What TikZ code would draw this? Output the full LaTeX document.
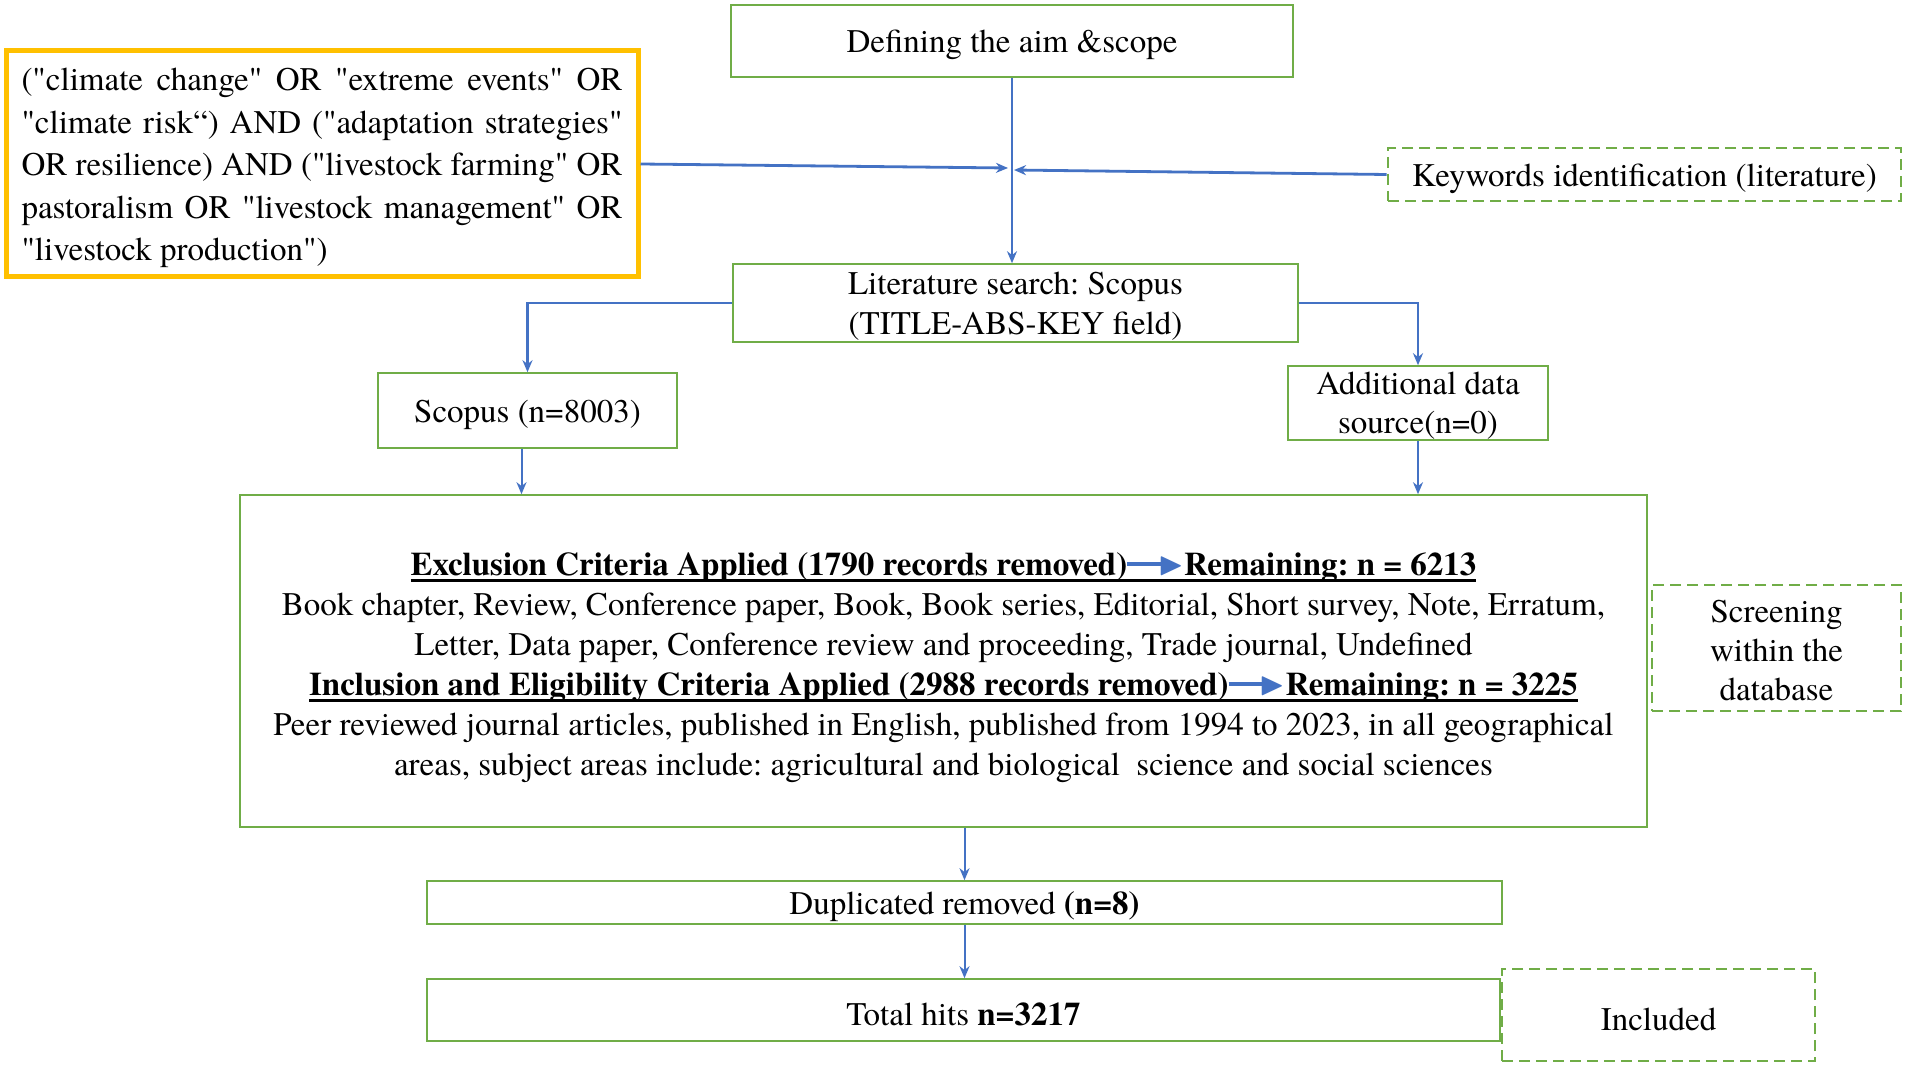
\documentclass[tikz,border=0pt]{standalone}
\usepackage{amssymb}
\usepackage{fontspec}
\setmainfont{texgyretermes}[Extension=.otf, UprightFont=*-regular, BoldFont=*-bold, ItalicFont=*-italic, BoldItalicFont=*-bolditalic, Ligatures=TeXOff]
\usetikzlibrary{arrows.meta}
\definecolor{boxgreen}{HTML}{70AD47}
\definecolor{lineblue}{HTML}{4472C4}
\definecolor{qyellow}{HTML}{FFC000}
\newcommand\ulbox[1]{\setbox0\hbox{#1}\rlap{\rule[-6pt]{\wd0}{2.6pt}}\box0}
\newcommand\blarrow{\textcolor{lineblue}{\rule[0.3em]{1.05em}{0.12em}\kern-0.1em\raisebox{0.05em}{$\blacktriangleright$}}}
\newcommand\topgap[1]{\rule{0pt}{#1}}
\frenchspacing
\begin{document}
\begin{tikzpicture}[x=1pt,y=-1pt,
  txt/.style={font=\fontsize{33}{40}\selectfont\frenchspacing, align=center},
  gbox/.style={txt, draw=boxgreen, line width=1.6pt, inner sep=0pt},
  dbox/.style={gbox, line width=2.8pt, dash pattern=on 11pt off 6pt},
  arr/.style={draw=lineblue, line width=2pt, -{Stealth[length=12pt,width=10pt]}},
  barr/.style={arr, line width=2.8pt}]
\useasboundingbox[fill=white] (0,0) rectangle (1907,1067);

\node[gbox, minimum width=562pt, minimum height=72pt] (aim) at (1012,41) {\topgap{31pt}Defining the aim \&scope};

\node[draw=qyellow, line width=5pt, minimum width=632pt, minimum height=226pt, inner sep=0pt,
      font=\fontsize{33}{42.5}\selectfont\frenchspacing, text width=601pt, align=justify] (query) at (322,164)
 {\topgap{31pt}("climate change" OR "extreme events" OR\linebreak
  "climate risk“) AND ("adaptation strategies"\linebreak
  OR resilience) AND ("livestock farming" OR\linebreak
  pastoralism OR "livestock management" OR\linebreak
  "livestock production")};

\node[dbox, minimum width=513pt, minimum height=53pt] (kw) at (1644.5,174.5) {\topgap{31pt}Keywords identification (literature)};

\coordinate (jl) at (1008,168);
\coordinate (jr) at (1014,170);

\node[gbox, minimum width=565pt, minimum height=78pt] (lit) at (1015.5,303) {\topgap{29pt}Literature search: Scopus\\(TITLE-ABS-KEY field)};

\node[gbox, minimum width=299pt, minimum height=75pt] (scopus) at (527.5,410.5) {\topgap{31pt}Scopus (n=8003)};
\node[gbox, minimum width=260pt, minimum height=74pt, font=\fontsize{33}{39}\selectfont] (add) at (1418,403) {\topgap{27pt}Additional data\\source(n=0)};

\node[gbox, minimum width=1407pt, minimum height=332pt] (crit) at (943.5,661)
 {\topgap{37pt}\ulbox{\textbf{Exclusion Criteria Applied (1790 records removed)}\blarrow\textbf{Remaining: n = 6213}}\\
  Book chapter, Review, Conference paper, Book, Book series, Editorial, Short survey, Note, Erratum,\\
  Letter, Data paper, Conference review and proceeding, Trade journal, Undefined\\
  \ulbox{\textbf{Inclusion and Eligibility Criteria Applied (2988 records removed)}\blarrow\textbf{Remaining: n = 3225}}\\
  Peer reviewed journal articles, published in English, published from 1994 to 2023, in all geographical\\
  areas, subject areas include: agricultural and biological\ \ science and social sciences};

\node[dbox, minimum width=249pt, minimum height=126pt, font=\fontsize{33}{39}\selectfont] (screen) at (1776.5,648) {\topgap{28pt}Screening\\within the\\database};

\node[gbox, minimum width=1075pt, minimum height=43pt] (dup) at (964.5,902.5) {\topgap{31pt}Duplicated removed \textbf{(n=8)}};
\node[gbox, minimum width=1073pt, minimum height=62pt] (total) at (963.5,1010) {\topgap{31pt}Total hits \textbf{n=3217}};
\node[dbox, minimum width=313pt, minimum height=92pt] (incl) at (1658.5,1015) {\topgap{31pt}Included};

% connectors
\draw[arr] (aim.south) -- (aim.south |- lit.north);
\draw[barr] (query.east) -- (jl);
\draw[barr] (kw.west) -- (jr);
\draw[barr] (lit.west) -| (scopus.north);
\draw[barr] (lit.east) -| (add.north);
\draw[arr] ([xshift=-6pt]scopus.south) -- ([xshift=-6pt]scopus.south |- crit.north);
\draw[arr] (add.south) -- (add.south |- crit.north);
\draw[arr] (dup.north |- crit.south) -- (dup.north);
\draw[arr] (dup.south) -- (dup.south |- total.north);
\end{tikzpicture}
\end{document}
